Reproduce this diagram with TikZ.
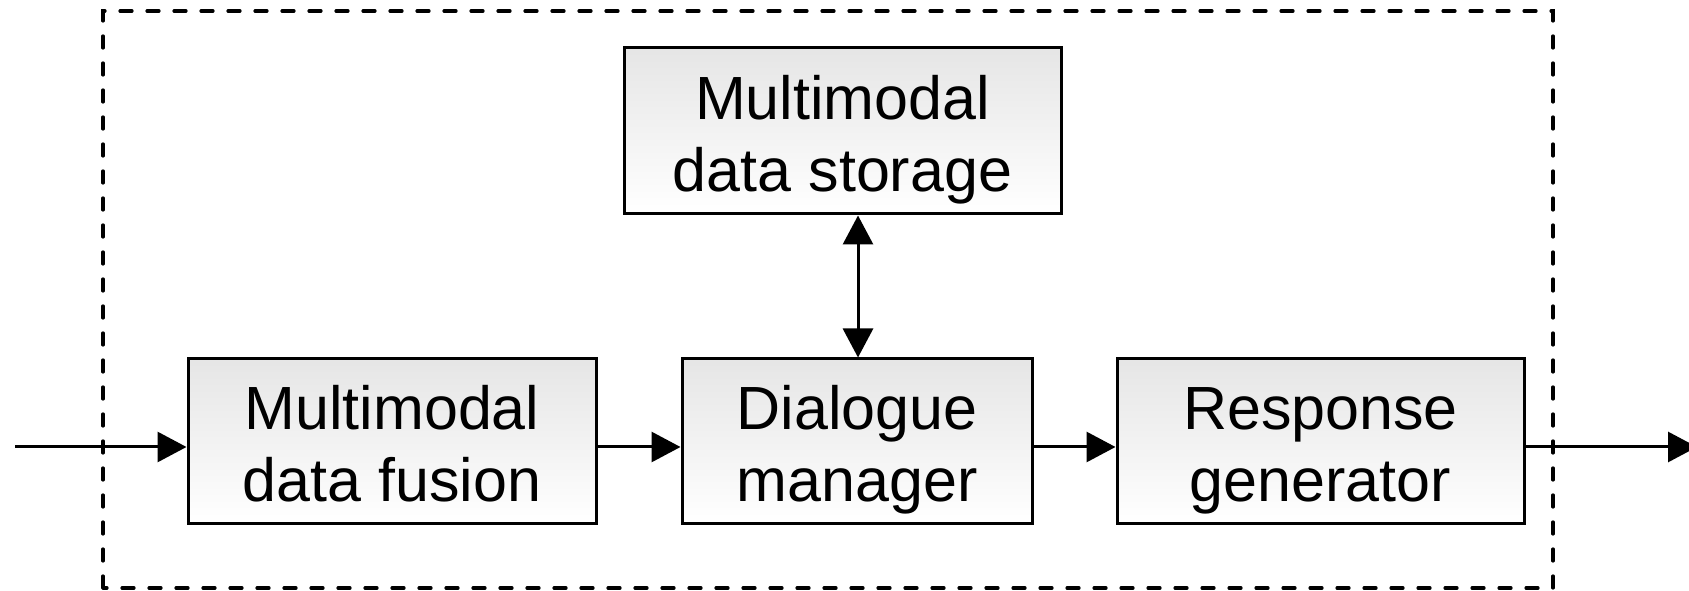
\documentclass[tikz,border=0pt]{standalone}
\usepackage{fontspec}
\setmainfont{Liberation Sans}
\usetikzlibrary{arrows.meta}
% two centred lines on fixed struts, lowered inside the block
\newcommand{\blocktext}[1]{\raisebox{-10pt}[\height][\depth]{\begin{tabular}{@{}c@{}}#1\end{tabular}}}
\begin{document}
\begin{tikzpicture}[x=1pt,y=1pt,
  block/.style={draw=black, line width=3pt, rectangle, minimum height=165pt,
    top color=gray!20, bottom color=white, inner sep=0pt,
    font=\fontsize{61}{72}\selectfont},
  flow/.style={line width=3pt, -{Triangle[length=29pt,width=30pt]}},
  frame/.style={line width=3.2pt, line cap=round, dash pattern=on 12pt off 15pt}
]
\clip (0,0) rectangle (1689,591);
\useasboundingbox (0,0) rectangle (1689,591);

% system boundary
\draw[frame] (103,3) rectangle (1553,580);

% processing blocks
\node[block, minimum width=408pt] (fusion) at (392,149.5) {\blocktext{Multimodal\\data fusion}};
\node[block, minimum width=350pt] (dialogue) at (857,149.5) {\blocktext{Dialogue\\manager}};
\node[block, minimum width=407pt] (response) at (1320.5,149.5) {\blocktext{Response\\generator}};
\node[block, minimum width=437pt, minimum height=166pt] (storage) at (842.5,460) {\blocktext{Multimodal\\data storage}};

% input and output ends
\coordinate (in) at (15,144);
\coordinate (out) at (1697,144);

% connectors
\draw[flow] (in) -- (in -| fusion.west);
\draw[flow] ([yshift=-5.5pt]fusion.east) -- ([yshift=-5.5pt]dialogue.west);
\draw[flow] ([yshift=-5.5pt]dialogue.east) -- ([yshift=-5.5pt]response.west);
\draw[flow] ([yshift=-5.5pt]response.east) -- (out);
\draw[line width=3pt, {Triangle[length=29pt,width=30pt]}-{Triangle[length=29pt,width=30pt]}]
  ([xshift=1pt]dialogue.north) -- ([xshift=1pt]dialogue.north |- storage.south);
\end{tikzpicture}
\end{document}
